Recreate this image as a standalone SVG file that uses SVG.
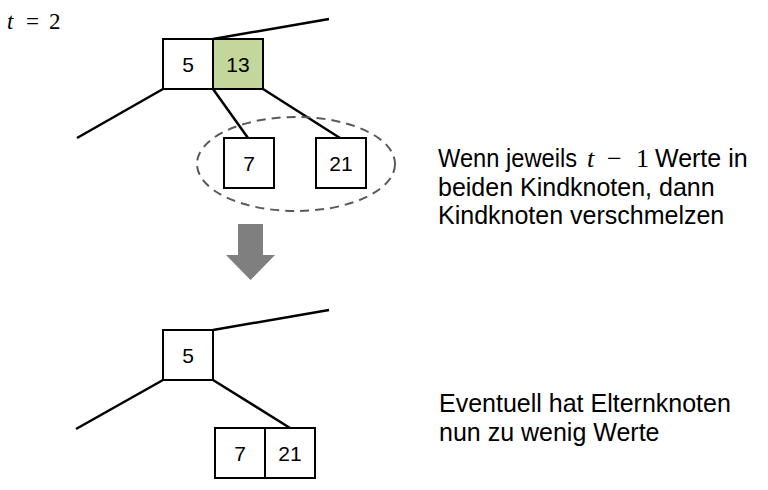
<svg xmlns="http://www.w3.org/2000/svg" width="768" height="490" viewBox="0 0 768 490">
<style>
.box{fill:#ffffff;stroke:#000000;stroke-width:2}
.hl{fill:#c3d69b;stroke:#000000;stroke-width:2}
.edge{stroke:#000000;stroke-width:2.5;fill:none;stroke-linecap:butt}
.lbl{font-family:"Liberation Sans",Arial,sans-serif;font-size:21px;fill:#000000;text-anchor:middle}
.txt{font-family:"Liberation Sans",Arial,sans-serif;font-size:25px;fill:#000000}
.math{font-family:"Liberation Serif","Times New Roman",serif;fill:#000000}
</style>
<rect width="768" height="490" fill="#ffffff"/>
<text class="math" x="7" y="29" font-size="23"><tspan font-style="italic">t</tspan><tspan x="26">=</tspan><tspan x="49">2</tspan></text>
<g id="connectors">
<line class="edge" x1="213" y1="39" x2="329" y2="19"/>
<line class="edge" x1="163" y1="89" x2="77" y2="138"/>
<line class="edge" x1="213" y1="89" x2="248" y2="138"/>
<line class="edge" x1="263" y1="89" x2="340" y2="138"/>
<line class="edge" x1="213" y1="330" x2="329" y2="310"/>
<line class="edge" x1="163" y1="380" x2="76" y2="429"/>
<line class="edge" x1="213" y1="380" x2="290" y2="428"/>
</g>
<g id="group-ellipse">
<ellipse cx="296" cy="164" rx="99" ry="47" fill="none" stroke="#595959" stroke-width="2" stroke-dasharray="9,6"/>
</g>
<g id="node-top">
<rect class="box" x="163" y="39" width="50" height="50"/>
<text class="lbl" x="188" y="72">5</text>
<rect class="hl" x="213" y="39" width="50" height="50"/>
<text class="lbl" x="238" y="72">13</text>
</g>
<g id="node-7">
<rect class="box" x="224" y="138" width="50" height="50"/>
<text class="lbl" x="249" y="171">7</text>
</g>
<g id="node-21">
<rect class="box" x="316" y="138" width="50" height="50"/>
<text class="lbl" x="341" y="171">21</text>
</g>
<g id="arrow">
<polygon points="238,224 263,224 263,255 275,255 250.5,280 226,255 238,255" fill="#7f7f7f"/>
</g>
<g id="node-bottom">
<rect class="box" x="163" y="330" width="50" height="50"/>
<text class="lbl" x="188" y="363">5</text>
</g>
<g id="node-merged">
<rect class="box" x="215" y="428" width="50" height="50"/>
<text class="lbl" x="240" y="461">7</text>
<rect class="box" x="265" y="428" width="50" height="50"/>
<text class="lbl" x="290" y="461">21</text>
</g>
<g id="text-top">
<text class="txt" x="438" y="167" textLength="139" lengthAdjust="spacingAndGlyphs">Wenn jeweils</text>
<text class="math" x="587" y="167" font-size="26" font-style="italic">t</text>
<text class="math" x="607" y="167" font-size="26">−</text>
<text class="math" x="636" y="167" font-size="26">1</text>
<text class="txt" x="655" y="167">Werte in</text>
<text class="txt" x="438" y="196">beiden Kindknoten, dann</text>
<text class="txt" x="438" y="224">Kindknoten verschmelzen</text>
</g>
<g id="text-bottom">
<text class="txt" x="439" y="412">Eventuell hat Elternknoten</text>
<text class="txt" x="439" y="441">nun zu wenig Werte</text>
</g>
</svg>
